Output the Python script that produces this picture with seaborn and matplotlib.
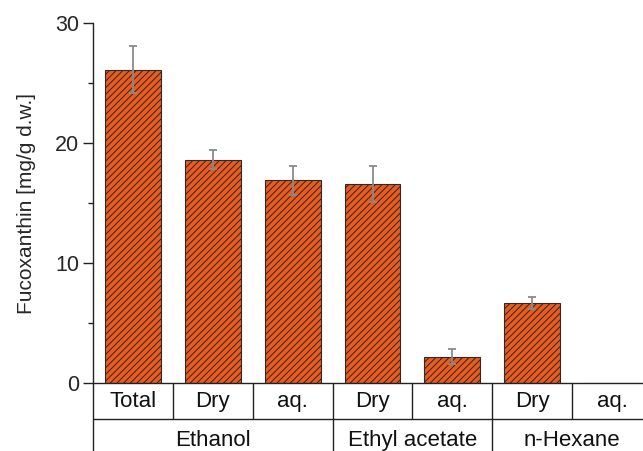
import numpy as np
import pandas as pd
import matplotlib
matplotlib.use("Agg")
import matplotlib.pyplot as plt
import matplotlib.transforms as mtransforms
import seaborn as sns

samples = ["Total", "Dry", "aq.", "Dry", "aq.", "Dry", "aq."]
solvents = ["Ethanol", "Ethanol", "Ethanol", "Ethyl acetate", "Ethyl acetate", "n-Hexane", "n-Hexane"]
fucoxanthin = [26.1, 18.6, 16.9, 16.6, 2.2, 6.7, 0.0]
errors = [1.95, 0.8, 1.2, 1.5, 0.6, 0.5, 0.0]
groups = ["Ethanol", "Ethyl acetate", "n-Hexane"]

sns.set_theme(style="ticks")
plt.rcParams['font.family'] = ['Liberation Sans', 'DejaVu Sans']
plt.rcParams['hatch.color'] = '#5a2208'
plt.rcParams['hatch.linewidth'] = 0.75

fig = plt.figure(figsize=(6.43, 4.51), dpi=100)
ax = fig.add_axes([93/643, 1-383/451, (652-93)/643, 360/451])

df = pd.DataFrame({"id": [f"{s}|{p}|{i}" for i, (s, p) in enumerate(zip(solvents, samples))],
                   "value": fucoxanthin})
sns.barplot(data=df, x="id", y="value", color="#EE5A1A", saturation=1, width=0.7,
            edgecolor="#2b2b2b", linewidth=0.8, hatch="/////", ax=ax, zorder=2)

xs = np.arange(len(fucoxanthin))
err = np.array(errors)
mask = err > 0
ax.errorbar(xs[mask], np.array(fucoxanthin)[mask], yerr=err[mask], fmt="none",
            ecolor="#8a8a8a", elinewidth=1.3, capsize=3.2, capthick=1.3, zorder=3)

ax.set_ylim(0, 30)
ax.set_xlim(-0.5, len(fucoxanthin) - 0.5)
ax.set_yticks([0, 10, 20, 30])
ax.set_yticks([5, 15, 25], minor=True)
ax.tick_params(axis="y", which="major", direction="out", length=7, width=1, labelsize=15.5, color="#222222", pad=3)
ax.tick_params(axis="y", which="minor", direction="out", length=3.5, width=1, color="#222222")
ax.tick_params(axis="x", length=0, labelbottom=False)
ax.set_xlabel("")
ax.set_ylabel("Fucoxanthin [mg/g d.w.]", fontsize=15, labelpad=14)
for s in ["top", "right"]:
    ax.spines[s].set_visible(False)
ax.spines["left"].set_linewidth(1.0)
ax.spines["bottom"].set_linewidth(1.0)
ax.spines["left"].set_color("#222222")
ax.spines["bottom"].set_color("#222222")

# category table below the axis
tr = mtransforms.blended_transform_factory(ax.transData, ax.transAxes)
r1_bot = -0.1
r_bottom = -0.25
lc = "#222222"
ax.plot([-0.5, -0.5], [0, r_bottom], transform=tr, color=lc, lw=1.0, clip_on=False)
ax.plot([-0.5, 7.5], [r1_bot, r1_bot], transform=tr, color=lc, lw=1.0, clip_on=False)
for b in np.arange(0.5, len(samples) - 0.5, 1.0):
    ax.plot([b, b], [0, r1_bot], transform=tr, color=lc, lw=1.0, clip_on=False)
for i, s in enumerate(samples):
    ax.text(i, -0.052, s, transform=tr, ha="center", va="center", fontsize=16, color="#111111")

bounds = []
for g in groups:
    idx = [i for i, s in enumerate(solvents) if s == g]
    bounds.append((min(idx) - 0.5, max(idx) + 0.5))
for (a, b), g in zip(bounds, groups):
    ax.text((a + b) / 2, -0.16, g, transform=tr, ha="center", va="center", fontsize=16, color="#111111")
for (a, b) in bounds[:-1]:
    ax.plot([b, b], [r1_bot, r_bottom], transform=tr, color=lc, lw=1.0, clip_on=False)

fig.savefig("out.png", dpi=100)
